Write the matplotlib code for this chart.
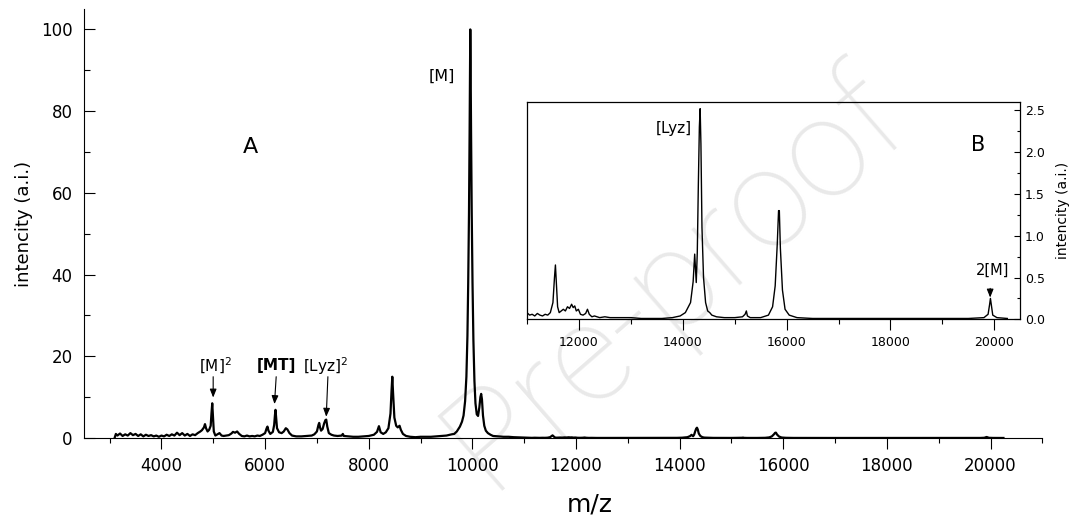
import matplotlib.pyplot as plt
from matplotlib.ticker import MultipleLocator

plt.rcParams['font.family'] = ['DejaVu Sans']

# spectrum: m/z and intensity (a.i.)
mz = [3100, 3120, 3150, 3200, 3250, 3300, 3350, 3400, 3450, 3500, 3550, 3600,
      3650, 3700, 3750, 3800, 3850, 3900, 3950, 4000, 4050, 4100, 4150, 4200,
      4250, 4300, 4350, 4400, 4450, 4500, 4550, 4600, 4650, 4700, 4750, 4780,
      4820, 4840, 4860, 4890, 4920, 4950, 4965, 4980, 4995, 5010, 5040, 5080,
      5120, 5160, 5200, 5250, 5300, 5350, 5380, 5420, 5460, 5500, 5550, 5600,
      5650, 5700, 5750, 5800, 5850, 5900, 5950, 6000, 6030, 6046, 6065, 6100,
      6150, 6175, 6190, 6201, 6212, 6230, 6270, 6320, 6360, 6400, 6430, 6470,
      6520, 6600, 6700, 6800, 6900, 6950, 7000, 7030, 7044, 7060, 7080, 7110,
      7140, 7165, 7180, 7200, 7230, 7280, 7330, 7400, 7480, 7500, 7520, 7600,
      7700, 7800, 7900, 8000, 8100, 8160, 8197, 8230, 8280, 8330, 8380, 8420,
      8440, 8455, 8470, 8495, 8530, 8560, 8595, 8620, 8660, 8720, 8800, 8900,
      9000, 9100, 9200, 9300, 9400, 9500, 9600, 9650, 9700, 9760, 9800, 9830,
      9860, 9885, 9905, 9920, 9935, 9947, 9955, 9960, 9966, 9975, 9988, 10003,
      10020, 10040, 10060, 10085, 10110, 10135, 10155, 10170, 10185, 10205, 10230, 10260,
      10300, 10350, 10400, 10500, 10600, 10700, 10800, 10900, 11000, 11050, 11100, 11150,
      11200, 11250, 11300, 11350, 11400, 11450, 11500, 11530, 11548, 11565, 11590, 11620,
      11660, 11700, 11740, 11780, 11820, 11860, 11890, 11920, 11950, 11990, 12030, 12080,
      12130, 12165, 12200, 12250, 12300, 12400, 12500, 12600, 12800, 13000, 13200, 13400,
      13600, 13800, 13950, 14050, 14150, 14200, 14230, 14245, 14260, 14280, 14300, 14320,
      14335, 14350, 14370, 14400, 14440, 14480, 14520, 14560, 14650, 14800, 15000, 15150,
      15200, 15225, 15245, 15300, 15500, 15650, 15730, 15780, 15820, 15845, 15860, 15880,
      15920, 15970, 16050, 16200, 16500, 17000, 17500, 18000, 18500, 19000, 19500, 19800,
      19880, 19910, 19925, 19940, 19970, 20050, 20250]
intensity = [0.2, 1.0, 0.6, 1.1, 0.5, 0.9, 0.6, 1.2, 0.7, 1.0, 0.5, 0.9,
             0.4, 0.8, 0.5, 0.7, 0.4, 0.6, 0.3, 0.6, 0.4, 0.8, 0.5, 0.9,
             0.6, 1.3, 0.7, 1.2, 0.6, 1.0, 0.5, 0.9, 0.7, 1.2, 1.6, 1.9,
             2.6, 3.4, 2.4, 1.6, 2.0, 3.0, 6.0, 8.5, 5.0, 1.6, 0.6, 0.9,
             1.2, 0.6, 0.5, 0.6, 0.7, 1.1, 1.5, 1.3, 1.6, 1.0, 0.5, 0.4,
             0.6, 0.4, 0.5, 0.4, 0.6, 0.5, 0.8, 1.2, 2.4, 2.8, 1.8, 1.0,
             1.5, 3.2, 5.6, 6.9, 5.2, 2.4, 1.4, 1.2, 1.6, 2.4, 2.1, 1.2,
             0.6, 0.4, 0.4, 0.5, 0.6, 0.9, 1.6, 3.2, 3.7, 2.6, 1.8, 2.2,
             3.6, 4.4, 4.5, 2.8, 1.2, 0.8, 0.6, 0.5, 0.6, 1.0, 0.5, 0.4,
             0.3, 0.3, 0.4, 0.5, 0.8, 1.5, 2.9, 1.4, 1.0, 1.4, 2.4, 6.0,
             11.5, 15.0, 11.0, 5.0, 3.0, 2.6, 3.0, 2.0, 1.0, 0.5, 0.3, 0.2,
             0.3, 0.3, 0.3, 0.4, 0.5, 0.6, 0.9, 1.0, 1.6, 2.8, 4.0, 5.5,
             9.0, 15.0, 25.0, 38.0, 55.0, 75.0, 92.0, 100.0, 92.0, 75.0, 55.0, 38.0,
             24.0, 14.0, 8.5, 5.8, 5.4, 7.5, 10.0, 10.8, 9.5, 5.5, 3.0, 1.8,
             1.2, 0.8, 0.5, 0.4, 0.3, 0.3, 0.2, 0.15, 0.08, 0.05, 0.06, 0.04,
             0.07, 0.05, 0.04, 0.06, 0.05, 0.08, 0.2, 0.5, 0.65, 0.45, 0.15, 0.08,
             0.10, 0.12, 0.10, 0.15, 0.13, 0.18, 0.14, 0.16, 0.10, 0.12, 0.06, 0.05,
             0.07, 0.12, 0.06, 0.03, 0.04, 0.02, 0.03, 0.02, 0.02, 0.02, 0.01, 0.01,
             0.01, 0.02, 0.04, 0.08, 0.2, 0.45, 0.78, 0.6, 0.44, 0.8, 1.6, 2.3,
             2.52, 2.1, 1.1, 0.5, 0.2, 0.1, 0.08, 0.05, 0.03, 0.02, 0.02, 0.03,
             0.06, 0.1, 0.04, 0.02, 0.02, 0.05, 0.15, 0.4, 0.9, 1.3, 1.3, 0.85,
             0.35, 0.12, 0.05, 0.02, 0.01, 0.01, 0.01, 0.01, 0.01, 0.01, 0.01, 0.02,
             0.06, 0.18, 0.25, 0.18, 0.05, 0.02, 0.01]

main_xticks = [4000, 6000, 8000, 10000, 12000, 14000, 16000, 18000, 20000]
main_yticks = [0, 20, 40, 60, 80, 100]
inset_xticks = [12000, 14000, 16000, 18000, 20000]
inset_yticks = [0.0, 0.5, 1.0, 1.5, 2.0, 2.5]

fig = plt.figure(figsize=(10.75, 5.29), dpi=100)

# faint watermark behind everything
fig.text(675 / 1075, 1 - 278 / 529, 'Pre-proof', rotation=41,
         fontsize=100, color='#e9e9e9', family='Roboto', fontweight='light',
         ha='center', va='center', rotation_mode='anchor', zorder=-10)

# main panel
ax = fig.add_axes([0.0779, 0.172, 0.8917, 0.811])
ax.patch.set_visible(False)
ax.plot(mz, intensity, color='black', lw=1.6)
ax.set_xlim(2500, 21000)
ax.set_ylim(0, 105)
ax.spines['top'].set_visible(False)
ax.spines['right'].set_visible(False)
ax.set_xticks(main_xticks)
ax.set_yticks(main_yticks)
ax.xaxis.set_minor_locator(MultipleLocator(1000))
ax.yaxis.set_minor_locator(MultipleLocator(10))
ax.tick_params(axis='x', which='major', direction='out', length=8, width=0.8, pad=6, labelsize=12)
ax.tick_params(axis='x', which='minor', direction='out', length=3.5, width=0.8)
ax.tick_params(axis='y', which='major', direction='in', length=8, width=0.8, pad=8, labelsize=12)
ax.tick_params(axis='y', which='minor', direction='in', length=4, width=0.8)
ax.set_ylabel('intencity (a.i.)', fontsize=13, labelpad=6)
ax.set_xlabel('m/z', fontsize=18)
ax.xaxis.set_label_coords(0.528, -0.128)

ax.text(5712, 71.2, 'A', fontsize=16, ha='center', va='center')
ax.text(9416, 88.6, '[M]', fontsize=11.5, ha='center', va='center')

arrow = dict(arrowstyle='-|>,head_length=0.5,head_width=0.2', color='black',
             lw=0.8, shrinkA=0, shrinkB=0, mutation_scale=10)
ax.text(5037, 17.7, '[M]$^2$', fontsize=11, ha='center', va='center')
ax.annotate('', xy=(4998, 9.9), xytext=(4998, 15.0), arrowprops=arrow)
ax.text(6214, 17.7, '[MT]', fontsize=11, fontweight='bold', ha='center', va='center')
ax.annotate('', xy=(6181, 8.3), xytext=(6214, 15.0), arrowprops=arrow)
ax.text(7174, 17.7, '[Lyz]$^2$', fontsize=11, ha='center', va='center')
ax.annotate('', xy=(7180, 5.2), xytext=(7212, 15.0), arrowprops=arrow)

# inset
axi = fig.add_axes([0.4902, 0.3964, 0.4589, 0.4108])
axi.patch.set_visible(False)
axi.plot(mz, intensity, color='black', lw=1.0)
axi.set_xlim(11000, 20500)
axi.set_ylim(0, 2.6)
for s in axi.spines.values():
    s.set_linewidth(0.9)
axi.set_xticks(inset_xticks)
axi.set_yticks(inset_yticks)
axi.xaxis.set_minor_locator(MultipleLocator(1000))
axi.yaxis.set_minor_locator(MultipleLocator(0.25))
axi.yaxis.tick_right()
axi.yaxis.set_label_position('right')
axi.tick_params(axis='x', which='major', direction='out', length=8, width=0.8, pad=4, labelsize=9)
axi.tick_params(axis='x', which='minor', direction='out', length=3.5, width=0.8)
axi.tick_params(axis='y', which='major', direction='in', length=4.3, width=0.8, pad=3.4, labelsize=9)
axi.tick_params(axis='y', which='minor', direction='in', length=2.2, width=0.8)
axi.set_ylabel('intencity (a.i.)', fontsize=10, labelpad=8)

axi.text(13823, 2.28, '[Lyz]', fontsize=11, ha='center', va='center')
axi.text(19693, 2.09, 'B', fontsize=15, ha='center', va='center')
axi.text(19970, 0.59, '2[M]', fontsize=10.5, ha='center', va='center')
axi.annotate('', xy=(19920, 0.26), xytext=(19920, 0.37), arrowprops=arrow)

fig.savefig('out.png', dpi=100)
